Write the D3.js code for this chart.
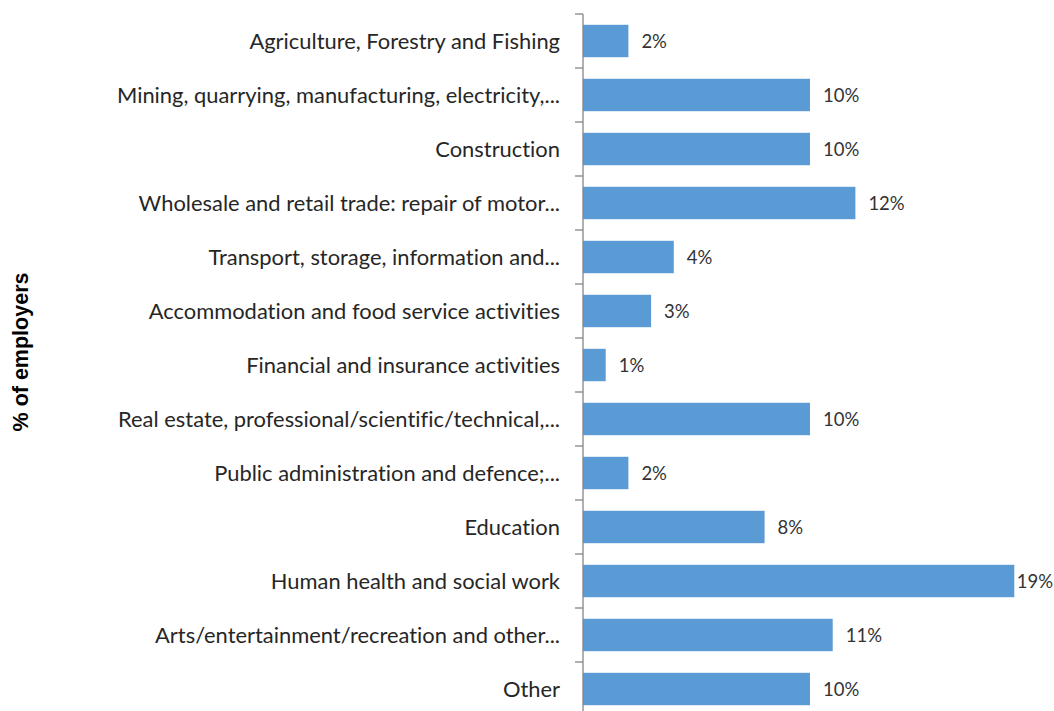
<!DOCTYPE html>
<html><head><meta charset="utf-8">
<script src="https://cdn.jsdelivr.net/npm/d3@7"></script>
<style>body{margin:0;background:#fff}svg{display:block}text{font-variant-ligatures:none;font-feature-settings:"liga" 0}</style>
</head><body>
<svg id="c" width="1054" height="711"></svg>
<script>
const categories = [
  "Agriculture, Forestry and Fishing",
  "Mining, quarrying, manufacturing, electricity,...",
  "Construction",
  "Wholesale and retail trade: repair of motor...",
  "Transport, storage, information and...",
  "Accommodation and food service activities",
  "Financial and insurance activities",
  "Real estate, professional/scientific/technical,...",
  "Public administration and defence;...",
  "Education",
  "Human health and social work",
  "Arts/entertainment/recreation and other...",
  "Other"
];
const values = [2, 10, 10, 12, 4, 3, 1, 10, 2, 8, 19, 11, 10];
const valueLabels = ["2%","10%","10%","12%","4%","3%","1%","10%","2%","8%","19%","11%","10%"];
const axisTitle = "% of employers";

(function(){
const W = 1054, H = 711;
const svg = d3.select("#c");
const x0 = 583, topY = 14, band = 54;
const x = d3.scaleLinear().domain([0, 10]).range([x0, x0 + 227]);
const y = d3.scaleBand().domain(categories).range([topY, topY + band * categories.length]).paddingInner(0.4).paddingOuter(0.2);

svg.selectAll("rect.bar").data(values).enter().append("rect")
  .attr("class", "bar")
  .attr("x", x(0)).attr("y", (d,i) => y(categories[i]))
  .attr("width", d => x(d) - x(0)).attr("height", y.bandwidth())
  .attr("fill", "#5B9BD5");

const axis = d3.axisLeft(y).tickSize(0).tickFormat("");
const g = svg.append("g").attr("transform", `translate(${x0},0)`).call(axis);
g.select(".domain").attr("stroke", "#868686").attr("stroke-width", 1.3).attr("d", `M0,${topY}V${H+10}`);
const bounds = d3.range(categories.length + 1).map(i => topY + i * band);
svg.append("g").selectAll("line").data(bounds).enter().append("line")
  .attr("x1", x0 - 8).attr("x2", x0).attr("y1", d => d).attr("y2", d => d)
  .attr("stroke", "#868686").attr("stroke-width", 1.3);

svg.append("g").selectAll("text").data(categories).enter().append("text")
  .attr("x", 560).attr("y", d => y(d) + y.bandwidth()/2)
  .attr("dy", "0.35em").attr("text-anchor", "end")
  .attr("font-family", "Lato, 'Open Sans', sans-serif").attr("font-size", 21.9)
  .attr("fill", "#262626").text(d => d);

const vl = svg.append("g").selectAll("text").data(values).enter().append("text")
  .attr("y", (d,i) => y(categories[i]) + y.bandwidth()/2 + 1)
  .attr("dy", "0.35em")
  .attr("font-family", "Lato, 'Open Sans', sans-serif").attr("font-size", 18.5)
  .attr("fill", "#333333").text((d,i) => valueLabels[i]);
vl.each(function(d){
  const w = this.getComputedTextLength();
  d3.select(this).attr("x", Math.min(x(d) + 13, W - w - 1));
});

svg.append("text").attr("transform", `translate(28,352) rotate(-90)`)
  .attr("text-anchor", "middle")
  .attr("font-family", "'Liberation Sans', Arial, sans-serif").attr("font-weight", "bold")
  .attr("font-size", 21.5).attr("fill", "#000").text(axisTitle);
})();
</script>
</body></html>
